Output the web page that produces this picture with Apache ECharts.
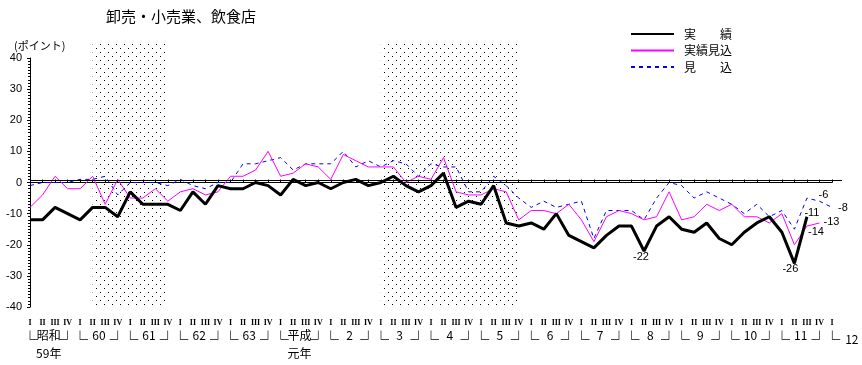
<!DOCTYPE html>
<html><head><meta charset="utf-8">
<script src="https://cdn.jsdelivr.net/npm/echarts@6/dist/echarts.min.js"></script>
<style>html,body{margin:0;padding:0;background:#fff}#c{width:862px;height:365px}</style>
</head><body><div id="c"></div>
<script>
// ---- data ----
const yearKeys = ['S59','S60','S61','S62','S63','H1','H2','H3','H4','H5','H6','H7','H8','H9','H10','H11','H12'];
const yearLabels = ['昭和\n59年','60','61','62','63','平成\n元年','2','3','4','5','6','7','8','9','10','11','12'];
const quarterLabels = ['I','II','III','IV'];
const quarterCount = 65;

// 実績
const actual = [-12,-12,-8,-10,-12,-8,-8,-11,-3,-7,-7,-7,-9,-3,-7,-1,-2,-2,0,-1,
  -4,1,-1,0,-2,0,1,-1,0,2,-1,-3,-1,3,-8,-6,-7,-1,-13,-14,
  -13,-15,-10,-17,-19,-21,-17,-14,-14,-22,-14,-11,-15,-16,-13,-18,-20,-16,-13,-11,
  -16,-26,-11];
// 実績見込
const outlook = [-8,-4,2,-2,-2,2,-7,1,-5,-5,-2,-6,-3,-2,-4,-3,2,2,4,10,
  2,3,6,5,1,9,7,5,5,5,0,2,1,8,-3,-4,-4,-2,-3,-12,
  -9,-9,-10,-7,-12,-19,-11,-9,-10,-12,-11,-3,-12,-11,-7,-9,-7,-11,-11,-13,
  -10,-20,-14,-13];
// 見込
const forecast = [-1,0,0,0,1,1,2,-4,0,0,0,-1,1,-1,-2,0,0,6,6,7,
  8,4,6,6,6,10,5,7,5,7,6,2,6,5,5,-3,-3,2,-1,-5,
  -8,-6,-8,-7,-6,-18,-9,-9,-9,-12,-5,0,-1,-5,-3,-5,-7,-10,-7,-11,
  -9,-15,-5,-6,-8];

// shaded periods (category keys)
const shadedPeriods = [['S60-II','S61-IV'], ['H3-I','H5-IV']];
// labelled points: [index, dx, dy]
const actualLabelled = [[49,-3,6],[61,-4,6],[62,5,-4]];
const outlookLabelled = [[62,9,6],[63,12,-1]];
const forecastLabelled = [[63,4,-6],[64,11,1]];
const zeroLineValue = 0.8;

// ---- build ----
const categories = [];
for (let i = 0; i < quarterCount; i++) {
  categories.push(yearKeys[Math.floor(i/4)] + '-' + quarterLabels[i%4]);
}

function pattern() {
  const c = document.createElement('canvas');
  c.width = 8; c.height = 8;
  const ctx = c.getContext('2d');
  ctx.fillStyle = '#000';
  ctx.fillRect(0,0,1,1);
  ctx.fillRect(4,4,1,1);
  return {image: c, repeat: 'repeat'};
}

function marks(arr, list) {
  return {
    symbol: 'circle', symbolSize: 0, silent: true,
    label: {show: true, position: 'inside', color: '#000', fontSize: 11, fontFamily: 'Liberation Sans'},
    data: list.map(([i, dx, dy]) => ({coord: [categories[i], arr[i]], value: arr[i], label: {offset: [dx, dy]}}))
  };
}

const chart = echarts.init(document.getElementById('c'), null, {renderer: 'canvas'});
const font = 'Noto Sans CJK JP';
chart.setOption({
  animation: false,
  backgroundColor: '#fff',
  title: [
    {text: '卸売・小売業、飲食店', left: 101, top: 4, textStyle: {fontSize: 15, fontWeight: 'normal', color: '#000', fontFamily: font}},
    {text: '(ポイント)', left: 9, top: 35, textStyle: {fontSize: 11, fontWeight: 'normal', color: '#000', fontFamily: font}}
  ],
  legend: {
    left: 625, top: 23, orient: 'vertical', itemWidth: 43, itemHeight: 14, itemGap: 4.5,
    itemStyle: {opacity: 0, borderWidth: 0},
    textStyle: {fontSize: 12, color: '#000', fontFamily: font, padding: [0,0,0,5]},
    data: ['実　　績','実績見込','見　　込']
  },
  grid: [
    {left: 30, right: 30, top: 58, bottom: 58, containLabel: false, outerBoundsMode: 'none'},
    {left: 30, right: 30, top: 43, bottom: 58, containLabel: false, outerBoundsMode: 'none'}
  ],
  xAxis: [
    {type: 'category', gridIndex: 0, data: categories, boundaryGap: false, position: 'bottom',
     axisLine: {lineStyle: {color: '#000', width: 1}},
     axisTick: {show: true, inside: true, length: 3, interval: 0, lineStyle: {color: '#000'}},
     axisLabel: {interval: 0, margin: 12, color: '#000', fontFamily: 'Liberation Serif', fontWeight: 'bold', fontSize: 8,
       formatter: (v, i) => quarterLabels[i % 4]},
     splitLine: {show: false}},
    {type: 'category', gridIndex: 0, data: categories, boundaryGap: false, position: 'bottom',
     axisLine: {show: false}, axisTick: {show: false}, splitLine: {show: false},
     axisLabel: {interval: 0, margin: 19, color: '#000',
       formatter: (v, i) => {
         const q = i % 4, y = Math.floor(i / 4);
         if (i === quarterCount - 1) return '{be|└}{ye|' + yearLabels[y] + '}';
         if (q === 0) return '{br|└}';
         if (q === 3) return '{br|┘}';
         if (q === 1) return yearLabels[y].split('\n').map(s => '{yr|' + s + '}').join('\n');
         return '';
       },
       rich: {
         br: {fontSize: 16, lineHeight: 26, fontFamily: font, color: '#000'},
         be: {fontSize: 16, lineHeight: 26, fontFamily: font, color: '#000', padding: [0,0,0,18.7]},
         yr: {fontSize: 12, lineHeight: 18, fontFamily: font, color: '#000', padding: [0,0,0,12.5]},
         ye: {fontSize: 12, lineHeight: 18, fontFamily: font, color: '#000', padding: [0,0,0,5]}
       }}},
    {type: 'category', gridIndex: 1, data: categories, boundaryGap: false, show: false}
  ],
  yAxis: [
    {type: 'value', gridIndex: 0, min: -40, max: 40, interval: 10,
     axisLine: {show: true, lineStyle: {color: '#000'}},
     axisTick: {show: true, length: 3, lineStyle: {color: '#000'}},
     minorTick: {show: true, splitNumber: 10, length: 2, lineStyle: {color: '#000'}},
     splitLine: {show: false}, minorSplitLine: {show: false},
     axisLabel: {color: '#000', fontSize: 11, fontFamily: 'Liberation Sans', margin: 8}},
    {type: 'value', gridIndex: 1, min: 0, max: 1, show: false}
  ],
  series: [
    {type: 'line', xAxisIndex: 2, yAxisIndex: 1, data: [], silent: true, z: 0,
     markArea: {silent: true, itemStyle: {color: pattern()},
       data: shadedPeriods.map(p => [{xAxis: p[0]}, {xAxis: p[1]}])}},
    {name: '見　　込', type: 'line', xAxisIndex: 0, yAxisIndex: 0, data: forecast, symbol: 'none', z: 3,
     lineStyle: {color: '#0000ff', width: 1, type: [4,4]}, itemStyle: {color: '#0000ff'},
     markPoint: marks(forecast, forecastLabelled)},
    {name: '実績見込', type: 'line', xAxisIndex: 0, yAxisIndex: 0, data: outlook, symbol: 'none', z: 4,
     lineStyle: {color: '#ff00ff', width: 1}, itemStyle: {color: '#ff00ff'},
     markPoint: marks(outlook, outlookLabelled)},
    {name: '実　　績', type: 'line', xAxisIndex: 0, yAxisIndex: 0, data: actual, symbol: 'none', z: 5,
     lineStyle: {color: '#000', width: 3}, itemStyle: {color: '#000'},
     markPoint: marks(actual, actualLabelled),
     markLine: {silent: true, symbol: 'none', label: {show: false},
       lineStyle: {color: '#000', width: 1, type: 'solid'},
       data: [[{xAxis: categories[0], yAxis: zeroLineValue}, {xAxis: categories[quarterCount-1], yAxis: zeroLineValue, x: 842}]]}}
  ]
});
</script></body></html>
